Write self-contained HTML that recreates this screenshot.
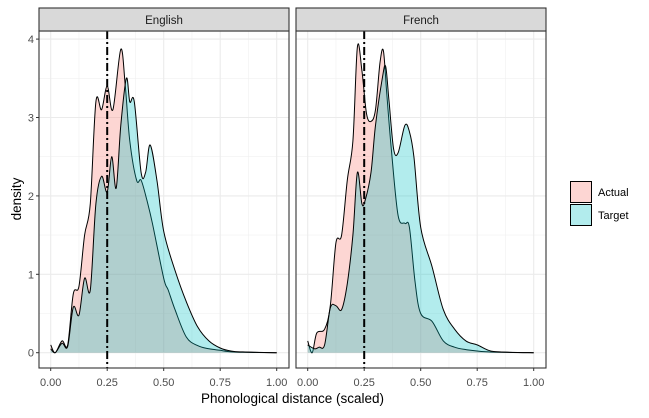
<!DOCTYPE html>
<html><head><meta charset="utf-8"><style>
body{margin:0;background:#fff;font-family:"Liberation Sans",Arial,sans-serif}
svg text{font-family:"Liberation Sans",Arial,sans-serif}
</style></head><body>
<svg id="c" width="649" height="413" viewBox="0 0 649 413" xmlns="http://www.w3.org/2000/svg"></svg>
<script>
const panels = ["English","French"];
const xTicks = [0,0.25,0.5,0.75,1];
const xTickLabels = ["0.00","0.25","0.50","0.75","1.00"];
const yTicks = [0,1,2,3,4];
const vlineX = 0.25;
const series = ["Actual","Target"];

const engActualX = [0,0.02,0.05,0.075,0.1,0.125,0.15,0.175,0.2,0.225,0.25,0.275,0.31,0.33,0.35,0.38,0.4,0.425,0.45,0.5,0.52,0.55,0.6,0.65,0.7,0.75,0.8,0.85,1];
const engActualY = [0.1,0,0.15,0.1,0.75,0.85,1.5,1.9,3.2,3.1,3.4,3.1,3.87,3.4,2.7,2.2,2.2,1.95,1.65,0.95,0.8,0.55,0.2,0.09,0.05,0.03,0.01,0.005,0];
const engTargetX = [0,0.02,0.05,0.075,0.1,0.125,0.15,0.175,0.2,0.225,0.25,0.27,0.29,0.31,0.335,0.35,0.37,0.4,0.42,0.44,0.47,0.5,0.55,0.6,0.65,0.7,0.75,0.8,0.85,1];
const engTargetY = [0.05,0,0.12,0.08,0.58,0.48,0.95,0.8,1.9,2.25,2.05,2.5,2.1,2.9,3.5,3.2,3.2,2.3,2.3,2.65,2.2,1.55,1.05,0.65,0.33,0.15,0.06,0.02,0.01,0];
const frActualX = [0,0.02,0.04,0.075,0.1,0.125,0.15,0.175,0.2,0.22,0.24,0.26,0.28,0.3,0.32,0.335,0.35,0.37,0.4,0.43,0.45,0.475,0.5,0.55,0.6,0.65,0.7,0.8,1];
const frActualY = [0.15,0,0.25,0.3,0.6,1.4,1.5,2.2,2.7,3.9,3.6,3.05,2.95,3.1,3.7,3.85,3.3,2.6,1.75,1.65,1.6,0.9,0.5,0.4,0.15,0.07,0.04,0.01,0];
const frTargetX = [0,0.03,0.05,0.075,0.1,0.125,0.15,0.175,0.2,0.22,0.24,0.255,0.28,0.3,0.33,0.345,0.36,0.38,0.4,0.43,0.45,0.47,0.5,0.55,0.6,0.65,0.7,0.75,0.8,0.85,1];
const frTargetY = [0.1,0.05,0.07,0.1,0.57,0.6,0.55,0.88,1.5,2.3,1.9,1.95,2.3,2.9,3.5,3.65,3.2,2.6,2.55,2.9,2.82,2.5,1.6,1.1,0.55,0.3,0.15,0.1,0.03,0.01,0];

const NS="http://www.w3.org/2000/svg";
const svg=document.getElementById("c");
function mk(t,a,parent){const e=document.createElementNS(NS,t);for(const k in a)e.setAttribute(k,a[k]);(parent||svg).appendChild(e);return e;}
function smooth(pts){
  let d="";
  for(let i=0;i<pts.length-1;i++){
    const p0=pts[Math.max(0,i-1)],p1=pts[i],p2=pts[i+1],p3=pts[Math.min(pts.length-1,i+2)];
    const t=6;
    const c1x=p1[0]+(p2[0]-p0[0])/t, c1y=p1[1]+(p2[1]-p0[1])/t;
    const c2x=p2[0]-(p3[0]-p1[0])/t, c2y=p2[1]-(p3[1]-p1[1])/t;
    d+=" C"+c1x.toFixed(1)+","+c1y.toFixed(1)+" "+c2x.toFixed(1)+","+c2y.toFixed(1)+" "+p2[0].toFixed(1)+","+p2[1].toFixed(1);
  }
  return d;
}
const panelBox=[{l:39,r:289},{l:296,r:546}];
const topY=31, botY=368;
const yS=v=>352.7-v*78.4;
const data=[[ [engActualX,engActualY],[engTargetX,engTargetY] ],[ [frActualX,frActualY],[frTargetX,frTargetY] ]];
const fills=["rgba(248,118,109,0.3)","rgba(0,191,196,0.3)"];
panels.forEach((p,i)=>{
  const b=panelBox[i];
  const x0=b.l+11.7, x1=b.r-12.3;
  const xS=v=>x0+v*(x1-x0);
  const g=mk("g",{});
  
  
  mk("rect",{x:b.l,y:topY,width:b.r-b.l,height:botY-topY,fill:"#fff"},g);
  [0.125,0.375,0.625,0.875].forEach(v=>mk("line",{x1:xS(v),x2:xS(v),y1:topY,y2:botY,stroke:"#f0f0f0","stroke-width":0.6},g));
  [0.5,1.5,2.5,3.5].forEach(v=>mk("line",{x1:b.l,x2:b.r,y1:yS(v),y2:yS(v),stroke:"#f0f0f0","stroke-width":0.6},g));
  xTicks.forEach(v=>mk("line",{x1:xS(v),x2:xS(v),y1:topY,y2:botY,stroke:"#ebebeb","stroke-width":1.1},g));
  yTicks.forEach(v=>mk("line",{x1:b.l,x2:b.r,y1:yS(v),y2:yS(v),stroke:"#ebebeb","stroke-width":1.1},g));
  data[i].forEach((s,j)=>{
    const xs=s[0], ys=s[1];
    const pts=xs.map((x,k)=>[xS(x),yS(ys[k])]);
    const curve="M"+pts[0][0].toFixed(1)+","+pts[0][1].toFixed(1)+smooth(pts);
    const d="M"+xS(xs[0])+","+yS(0)+" L"+pts[0][0].toFixed(1)+","+pts[0][1].toFixed(1)+smooth(pts)+" L"+xS(xs[xs.length-1])+","+yS(0)+"Z";
    const a=mk("path",{d:d,fill:fills[j],stroke:"none"},g);
    
    
    mk("path",{d:curve,fill:"none",stroke:"#000","stroke-width":1},g);
  });
  const vl=mk("line",{x1:xS(vlineX),x2:xS(vlineX),y1:topY,y2:botY,stroke:"#000","stroke-width":2,"stroke-dasharray":"8,3,2,3"},g);
  
  
  mk("rect",{x:b.l,y:topY,width:b.r-b.l,height:botY-topY,fill:"none",stroke:"#333","stroke-width":1.1},g);
  mk("rect",{x:b.l,y:8,width:b.r-b.l,height:topY-8,fill:"#d9d9d9",stroke:"#333","stroke-width":1.1},g);
  const st=mk("text",{x:(b.l+b.r)/2,y:24,"text-anchor":"middle","font-size":11.5,fill:"#1a1a1a"},g);
  st.textContent=p;
  
  
  xTicks.forEach((v,k)=>{
    mk("line",{x1:xS(v),x2:xS(v),y1:botY,y2:botY+3,stroke:"#333"},g);
    const t=mk("text",{x:xS(v),y:386,"text-anchor":"middle","font-size":11,fill:"#4d4d4d"},g);
    t.textContent=xTickLabels[k];
    
    
  });
});
yTicks.forEach(v=>{
  mk("line",{x1:36,x2:39,y1:yS(v),y2:yS(v),stroke:"#333"});
  const t=mk("text",{x:34,y:yS(v)+4,"text-anchor":"end","font-size":11,fill:"#4d4d4d"});
  t.textContent=v;
  
  
});
const xt=mk("text",{x:292.5,y:403,"text-anchor":"middle","font-size":13.5,fill:"#000"});
xt.textContent="Phonological distance (scaled)";


const yt=mk("text",{x:0,y:0,"text-anchor":"middle","font-size":13.5,fill:"#000",transform:"translate(21,199) rotate(-90)"});
yt.textContent="density";


series.forEach((s,j)=>{
  const y=181+j*23;
  const g=mk("g",{});
  
  
  mk("rect",{x:570,y:y,width:22,height:22,fill:"#fff"},g);
  mk("rect",{x:570.5,y:y+0.5,width:21,height:21,fill:fills[j],stroke:"#000","stroke-width":1},g);
  const t=mk("text",{x:598,y:y+15,"font-size":11,fill:"#000"},g);
  t.textContent=s;
});
</script>
</body></html>
